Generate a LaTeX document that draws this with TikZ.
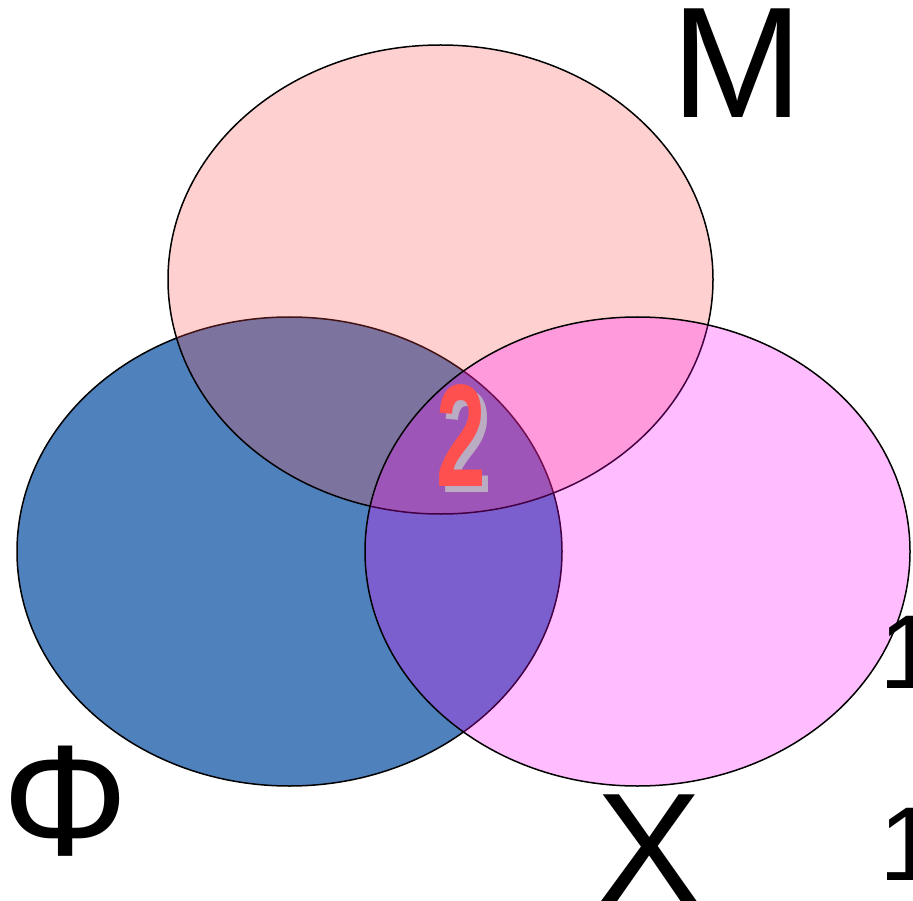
\documentclass[tikz,border=0pt]{standalone}
\usepackage{fontspec}
\setmainfont{Liberation Sans}
\usepackage{xcolor}
\usetikzlibrary{shapes.geometric, positioning}
\definecolor{setblue}{RGB}{79,129,189}
\definecolor{setred}{RGB}{255,75,75}
\definecolor{setmag}{RGB}{255,0,255}
\definecolor{numred}{RGB}{255,80,80}
\definecolor{numshade}{RGB}{186,172,194}
\tikzset{
  setellipse/.style={
    ellipse, draw=black, line width=1.5pt,
    minimum width=545pt, minimum height=469pt, inner sep=0pt,
  },
  biglabel/.style={inner sep=0pt, anchor=base,
    font=\fontsize{158pt}{160pt}\selectfont},
  onelabel/.style={inner sep=0pt, anchor=base west,
    font=\fontsize{105pt}{107pt}\selectfont},
}

\begin{document}
\begin{tikzpicture}[
  x=1pt, y=-1pt,
  numtext/.style={inner sep=0pt,
    font=\fontsize{146pt}{148pt}\selectfont\bfseries},
]
  \useasboundingbox (0,0) rectangle (913,901);

  % Sets
  \node[setellipse, fill=setblue] (phi) at (289.5,551.5) {};
  \node[setellipse, fill=setred, fill opacity=0.26] (m) at (440.5,279.5) {};
  \node[setellipse, fill=setmag, fill opacity=0.26] (x) at (637.5,551.5) {};

  % Count in the middle
  \node[numtext, text=numshade] (twoshade) at (467.5,441.5) {\scalebox{0.61}[1]{2}};
  \node[numtext, text=numred]   (two)      at (461.5,435.5) {\scalebox{0.61}[1]{2}};

  % Labels
  \node[biglabel] (lblM)   at (737.5,118) {M};
  \node[biglabel] (lblPhi) at (66,855)    {Φ};
  \node[biglabel] (lblX)   at (649,903)   {X};
  \node[onelabel] (lblOneA) at (879,688)  {1};
  \node[onelabel] (lblOneB) at (879,880)  {1};

\end{tikzpicture}
\end{document}
